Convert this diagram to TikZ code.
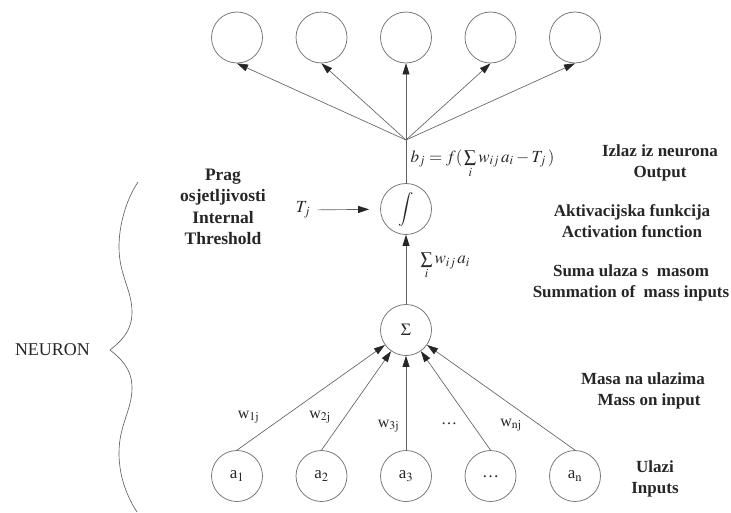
\documentclass[tikz,border=0pt]{standalone}
\usepackage{mathptmx}
\usepackage{fontspec}
\setmainfont{Liberation Serif}
\usetikzlibrary{arrows.meta}
\definecolor{lgray}{gray}{0.38}
\definecolor{cgray}{gray}{0.45}
\definecolor{tcol}{gray}{0.15}
\begin{document}
\begin{tikzpicture}[x=1pt,y=-1pt,
  cell/.style={circle,draw=cgray,line width=0.75pt,minimum size=51pt,inner sep=0pt,text=tcol,font=\fontsize{17}{20}\selectfont},
  conn/.style={draw=lgray,line width=0.65pt},
  arr/.style={conn,-{Triangle[length=11pt,width=7pt,color=black!85]}},
  lab/.style={font=\bfseries\fontsize{17}{21}\selectfont,align=center,text=tcol},
  wlab/.style={font=\fontsize{16}{18}\selectfont,text=tcol},
  mlab/.style={font=\fontsize{17}{19}\selectfont,text=tcol}]
\useasboundingbox (0,0) rectangle (731,513);

% output layer
\node[cell] (o1) at (237,37.5) {};
\node[cell] (o2) at (321.5,37.5) {};
\node[cell] (o3) at (406,37.5) {};
\node[cell] (o4) at (490.5,37.5) {};
\node[cell] (o5) at (575,37.5) {};

% neuron parts
\node[cell] (int) at (406,209) {$\displaystyle\int$};
\node[cell] (sig) at (406,330) {$\Sigma$};
\coordinate (P) at (406,140);

% inputs
\node[cell] (a1) at (237,476) {a$_1$};
\node[cell] (a2) at (321.5,476) {a$_2$};
\node[cell] (a3) at (406,476) {a$_3$};
\node[cell] (a4) at (490.5,476) {\raisebox{-4pt}{\dots}};
\node[cell] (a5) at (575,476) {a$_\mathrm{n}$};

% connectors
\draw[conn] (int) -- (P);
\foreach \i in {1,...,5} \draw[arr] (P) -- (o\i.south);
\draw[arr] (sig) -- (int);
\foreach \i in {1,...,5} \draw[arr] (a\i.north) -- (sig);

\node[mlab] (Tj) at (303,210) {$T_j$};
\draw[arr,shorten <=4pt,shorten >=11pt] (Tj) -- (int);

% formulas
\node[mlab,anchor=west] (fb) at (407,164) {$b_j = f(\,\sum\limits_i w_{ij}\,a_i - T_j\,)$};
\node[mlab,anchor=west] (fs) at (417,266) {$\sum\limits_i w_{ij}\,a_i$};

% weights
\node[wlab] (w1) at (248.5,417) {w$_{1\mathrm{j}}$};
\node[wlab] (w2) at (320,417) {w$_{2\mathrm{j}}$};
\node[wlab] (w3) at (388.5,426) {w$_{3\mathrm{j}}$};
\node[wlab] (wd) at (449,424) {\dots};
\node[wlab] (wn) at (511,425) {w$_{\mathrm{nj}}$};

% labels
\node[lab,font=\bfseries\fontsize{17.5}{21.3}\selectfont] (lt) at (223,207) {Prag\\osjetljivosti\\Internal\\Threshold};
\node[lab] (lo) at (660,163) {Izlaz iz neurona\\Output};
\node[lab] (la) at (632,221) {Aktivacijska funkcija\\Activation function};
\node[lab] (ls) at (631,283) {Suma ulaza s\ \ masom\\Summation of\ \ mass inputs};
\node[lab] (lm) at (643,391) {Masa na ulazima\\\hspace*{12pt}Mass on input};
\node[lab] (li) at (655,479) {Ulazi\\Inputs};
\node[font=\fontsize{18}{20}\selectfont,text=tcol] (neu) at (52.5,350) {NEURON};

% brace
\draw[conn] (138,182) .. controls (126,200) and (119,225) .. (119,247)
  .. controls (119,275) and (132,290) .. (132,312)
  .. controls (132,332) and (120,342) .. (110,350)
  .. controls (120,358) and (132,368) .. (132,388)
  .. controls (132,410) and (119,425) .. (119,453)
  .. controls (119,475) and (126,495) .. (137,512);
\end{tikzpicture}
\end{document}
